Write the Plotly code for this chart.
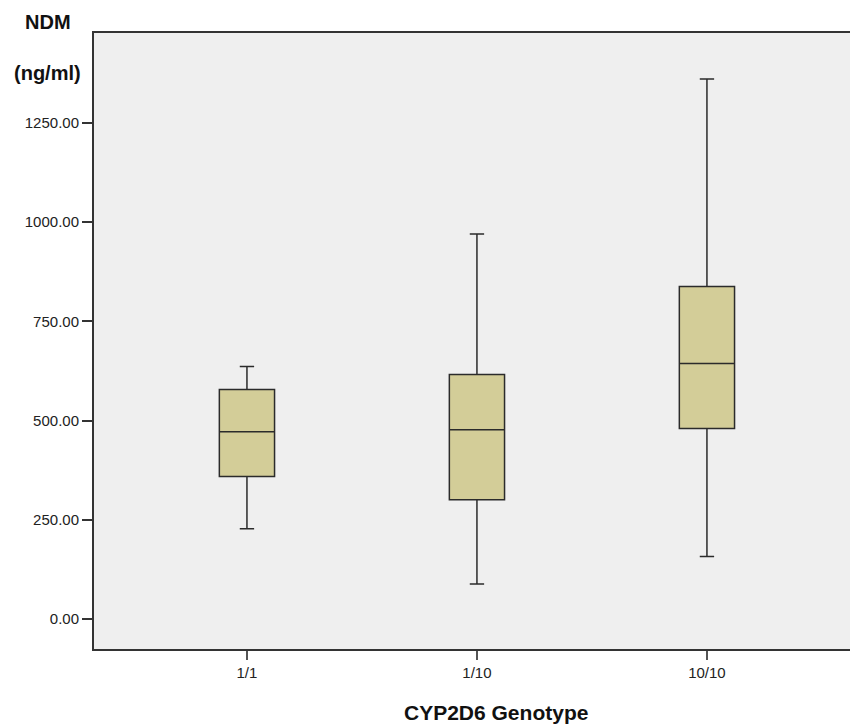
import plotly.graph_objects as go

categories = ["1/1", "1/10", "10/10"]
lower_whisker = [227, 88, 157]
q1 = [359, 300, 480]
median = [472, 477, 644]
q3 = [578, 616, 838]
upper_whisker = [636, 970, 1361]
y_ticks = [0, 250, 500, 750, 1000, 1250]

fig = go.Figure()
fig.add_trace(go.Box(
    x=[0, 1, 2],
    lowerfence=lower_whisker, q1=q1, median=median, q3=q3, upperfence=upper_whisker,
    fillcolor="#D3CD98",
    line=dict(color="#2b2b2b", width=1.5),
    width=0.24,
    whiskerwidth=0.26,
    boxpoints=False,
    showlegend=False,
    hoverinfo="skip",
))

fig.update_layout(
    width=850, height=726,
    margin=dict(l=94, r=0, t=33, b=77),
    paper_bgcolor="white",
    plot_bgcolor="#EFEFEF",
    font=dict(family="Liberation Sans, Arial", size=15, color="#222"),
    xaxis=dict(
        range=[-0.665, 2.622],
        tickmode="array", tickvals=[0, 1, 2], ticktext=categories,
        showgrid=False, zeroline=False,
        showline=True, linecolor="#333", linewidth=2, mirror=True,
        ticks="outside", ticklen=9, tickcolor="#555", tickwidth=2,
        tickfont=dict(size=15),
    ),
    yaxis=dict(
        range=[-76, 1477],
        tickmode="array", tickvals=y_ticks, ticktext=[f"{v:.2f}" for v in y_ticks],
        showgrid=False, zeroline=False,
        showline=True, linecolor="#333", linewidth=2,
        ticks="outside", ticklen=10, tickcolor="#333", tickwidth=1.5,
        tickfont=dict(size=15),
    ),
    annotations=[
        dict(text="<b>NDM</b>", x=47.5, y=22, xref="paper", yref="paper", showarrow=False,
             xanchor="center", yanchor="middle", font=dict(size=20, color="#111")),
        dict(text="<b>(ng/ml)</b>", x=47.5, y=73, xref="paper", yref="paper", showarrow=False,
             xanchor="center", yanchor="middle", font=dict(size=20, color="#111")),
        dict(text="<b>CYP2D6 Genotype</b>", x=496, y=712, xref="paper", yref="paper", showarrow=False,
             xanchor="center", yanchor="middle", font=dict(size=21, color="#111")),
    ],
)

# convert pixel annotation positions to paper coordinates
pw = 850 - 94
ph = 726 - 33 - 77
for a in fig.layout.annotations:
    px, py = a.x, a.y
    a.x = (px - 94) / pw
    a.y = (726 - 77 - py) / ph

fig.write_html("out.html")
